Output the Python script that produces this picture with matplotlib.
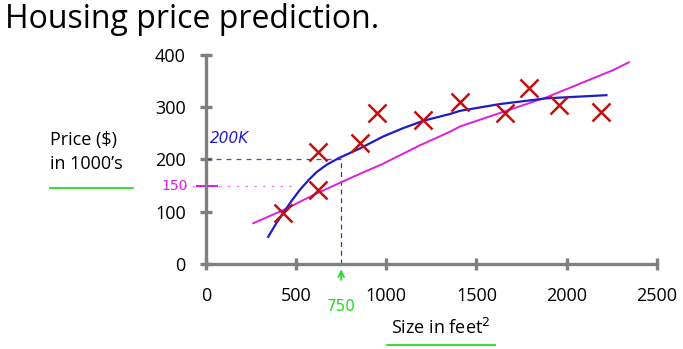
import matplotlib
matplotlib.use("Agg")
import matplotlib.pyplot as plt

plt.rcParams["font.family"] = ["Open Sans", "DejaVu Sans"]

# training examples (size in feet^2, price in $1000's)
size_ft2 = [428, 620, 620, 853, 946, 1201, 1411, 1661, 1790, 1957, 2189]
price_k = [98, 214, 142, 231, 288, 275, 310, 288, 337, 304, 291]

# hand-drawn straight-ish fit (magenta)
lin_x = [262, 428, 614, 798, 983, 1180, 1353, 1408, 1648, 1889, 2258, 2346]
lin_y = [78, 103, 135, 164, 192, 226, 253, 263, 291, 319, 371, 386]

# hand-drawn curved fit (blue)
quad_x = [345, 390, 428, 475, 521, 570, 614, 670, 733, 853, 983, 1094, 1205, 1353, 1408, 1630, 1889, 2221]
quad_y = [52, 78, 97, 121, 142, 161, 176, 190, 202, 221, 244, 260, 274, 287, 293, 306, 317, 323]

query_size = 750
pred_quad = 200
pred_lin = 150

x_ticks = [0, 500, 1000, 1500, 2000, 2500]
y_ticks = [0, 100, 200, 300, 400]

fig = plt.figure(figsize=(6.83, 3.49), dpi=100)
ax = fig.add_axes([0.3016, 0.2436, 0.660, 0.599])

grey = "#7f7f7f"
blue = "#1c1cc8"
magenta = "#e01ee0"
green = "#22dd22"

ax.plot(lin_x, lin_y, color=magenta, lw=1.4, zorder=3)
ax.plot(quad_x, quad_y, color=blue, lw=1.6, zorder=4)
ax.plot(size_ft2, price_k, "x", color="#c01010", ms=13, mew=1.8, zorder=5)

# dashed guides
ax.plot([0, query_size], [pred_quad, pred_quad], ls=(0, (4, 4)), color=blue, lw=0.9, alpha=0.8)
ax.plot([query_size, query_size], [0, pred_quad], ls=(0, (4, 3)), color=blue, lw=0.9, alpha=0.9)
ax.plot([-170, 480], [pred_lin, pred_lin], ls=(0, (2, 5)), color=magenta, lw=0.9, alpha=0.6, clip_on=False)
ax.plot([-50, 60], [pred_lin, pred_lin], color=magenta, lw=1.5, clip_on=False)

ax.text(20, 240, "200K", color=blue, fontsize=11, family=["DejaVu Sans"], style="italic", va="center")
ax.text(-175, 150, "150", color=magenta, fontsize=10, family=["DejaVu Sans"], ha="center", va="center", clip_on=False)
ax.text(750, -82, "750", color=green, fontsize=11, family=["DejaVu Sans"], ha="center", va="center", clip_on=False)
ax.annotate("", xy=(750, -5), xytext=(750, -36), annotation_clip=False,
            arrowprops=dict(arrowstyle="->", color=green, lw=1.3))

ax.set_xlim(0, 2500)
ax.set_ylim(0, 400)
ax.set_xticks(x_ticks)
ax.set_yticks(y_ticks)
for s in ["top", "right"]:
    ax.spines[s].set_visible(False)
for s in ["left", "bottom"]:
    ax.spines[s].set_color(grey)
    ax.spines[s].set_linewidth(2.4)
ax.tick_params(direction="inout", length=9, width=2.4, color=grey, labelsize=13)
ax.tick_params(axis="x", pad=12)
ax.tick_params(axis="y", pad=10)

fig.text(0.008, 0.945, "Housing price prediction.", fontsize=23, va="center", ha="left")
fig.text(0.073, 0.565, "Price ($)\nin 1000\u2019s", fontsize=13, va="center", ha="left", linespacing=1.4)
fig.text(0.645, 0.06, "Size in feet$^2$", fontsize=13, va="center", ha="center")

# green underlines
fig.add_artist(plt.Line2D([0.073, 0.195], [0.462, 0.462], color=green, lw=1.3))
fig.add_artist(plt.Line2D([0.567, 0.725], [0.012, 0.012], color=green, lw=1.3))

fig.savefig("out.png", dpi=100)
